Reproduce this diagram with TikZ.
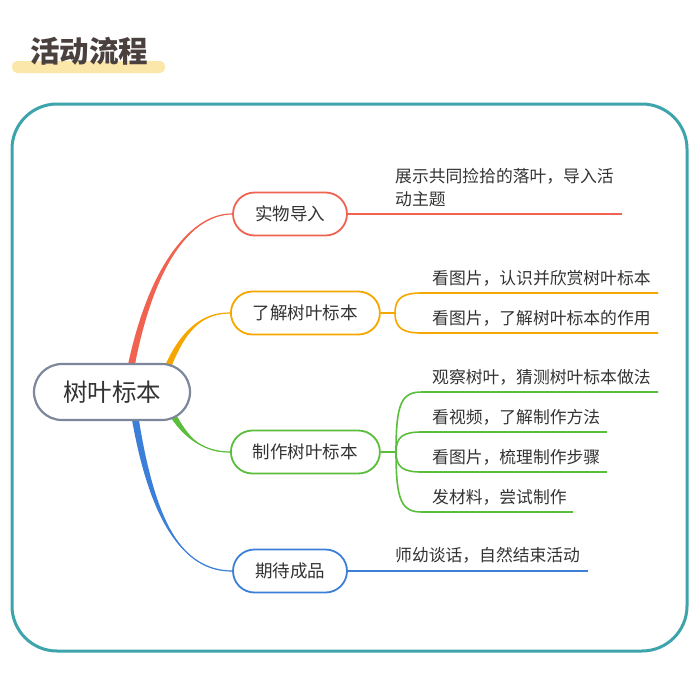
\documentclass[tikz,border=0pt]{standalone}
\usepackage{fontspec}
\setmainfont{Noto Sans CJK SC}
\usetikzlibrary{positioning, calc, backgrounds}
\definecolor{framec}{HTML}{3DA4AB}
\definecolor{barc}{HTML}{FCE7AA}
\definecolor{titlec}{HTML}{4A403D}
\definecolor{textc}{HTML}{333333}
\definecolor{rootc}{HTML}{7C879B}
\definecolor{redc}{HTML}{EF6350}
\definecolor{orangec}{HTML}{F5A700}
\definecolor{greenc}{HTML}{5BBD3C}
\definecolor{bluec}{HTML}{3C7FD8}
\tikzset{
  rootnode/.style={rectangle, rounded corners=28pt, minimum height=56pt, inner xsep=29pt, draw=rootc, line width=2.2pt, fill=white, text=textc, font=\fontsize{24.5}{27}\selectfont},
  topic/.style={rectangle, rounded corners=21.5pt, minimum height=43pt, inner xsep=22pt, line width=1.8pt, fill=white, text=textc, font=\fontsize{17.5}{20}\selectfont},
  leaf/.style={anchor=base west, inner sep=0pt, text=textc, font=\fontsize{16.8}{23}\selectfont},
  twig/.style={line width=1.6pt},
}
% tapered branch: colour, root, control 1, control 2, end
\newcommand{\mainbranch}[5]{%
  \fill[#1] ($(#2)+(-3.5,0)$) .. controls ($(#3)+(-2.5,0)$) and (#4) .. (#5)
    .. controls ($(#4)+(0,1.5)$) and ($(#3)+(2.5,0)$) .. ($(#2)+(3.5,0)$) -- cycle;
  \draw[#1, line width=1.2pt] (#2) .. controls (#3) and (#4) .. (#5);}

\begin{document}
\begin{tikzpicture}[x=1pt, y=-1pt]
  \useasboundingbox (0,0) rectangle (700,688);

  % ---- Title ----
  \fill[barc, rounded corners=5pt] (12,61) rectangle (165,73);
  \node (title) [text=titlec, font=\fontsize{29.5}{31}\bfseries\selectfont, anchor=west, inner sep=0pt] at (30,51) {活动流程};

  % ---- Frame ----
  \draw[framec, line width=3pt, rounded corners=45pt] (12,104) rectangle (687,651);

  % ---- Centre ----
  \node (root) [rootnode] at (112,392) {树叶标本};

  % ---- Topics ----
  \node (t1) [topic, draw=redc] at (290,214) {实物导入};
  \node (t2) [topic, draw=orangec, anchor=west] at (230,313) {了解树叶标本};
  \node (t3) [topic, draw=greenc, anchor=west] at (230,452) {制作树叶标本};
  \node (t4) [topic, draw=bluec] at (290,571) {期待成品};

  % ---- Main branches ----
  \begin{scope}[on background layer]
    \coordinate (r1) at ($(root.north)+(19,4)$);
    \coordinate (r2) at ($(root.north)+(55,6)$);
    \coordinate (r3) at ($(root.south)+(62,-4)$);
    \coordinate (r4) at ($(root.south)+(23,-4)$);
    \mainbranch{redc}{r1}{152,262}{192,214}{t1.west}
    \mainbranch{orangec}{r2}{185,325}{205,313}{t2.west}
    \mainbranch{greenc}{r3}{188,440}{205,452}{t3.west}
    \mainbranch{bluec}{r4}{152,520}{182,571}{t4.west}
  \end{scope}

  % ---- Branch 1 ----
  \coordinate (e1) at (622,214);
  \draw[twig, redc] (t1.east) -- (e1);
  \node (l11) [leaf, align=left] at (395,205) {展示共同捡拾的落叶，导入活\\动主题};

  % ---- Branch 2 ----
  \coordinate (f2) at (395,313);
  \coordinate (c21) at (422,293);
  \coordinate (c22) at (422,333);
  \draw[twig, orangec] (t2.east) -- (f2);
  \draw[twig, orangec] (f2) .. controls +(0,-16) and +(-18,0) .. (c21) -- (658,293);
  \draw[twig, orangec] (f2) .. controls +(0,16) and +(-18,0) .. (c22) -- (658,333);
  \node (l21) [leaf] at ($(c21)+(10,-9)$) {看图片，认识并欣赏树叶标本};
  \node (l22) [leaf] at ($(c22)+(10,-9)$) {看图片，了解树叶标本的作用};

  % ---- Branch 3 ----
  \coordinate (f3) at (396,452);
  \coordinate (c31) at (422,392);
  \coordinate (c32) at (422,432);
  \coordinate (c33) at (422,472);
  \coordinate (c34) at (422,512);
  \draw[twig, greenc] (t3.east) -- (f3);
  \draw[twig, greenc] (f3) .. controls +(0,-50) and +(-20,0) .. (c31) -- (658,392);
  \draw[twig, greenc] (f3) .. controls +(0,-16) and +(-18,0) .. (c32) -- (607,432);
  \draw[twig, greenc] (f3) .. controls +(0,16) and +(-18,0) .. (c33) -- (607,472);
  \draw[twig, greenc] (f3) .. controls +(0,50) and +(-20,0) .. (c34) -- (573,512);
  \node (l31) [leaf] at ($(c31)+(10,-9)$) {观察树叶，猜测树叶标本做法};
  \node (l32) [leaf] at ($(c32)+(10,-9)$) {看视频，了解制作方法};
  \node (l33) [leaf] at ($(c33)+(10,-9)$) {看图片，梳理制作步骤};
  \node (l34) [leaf] at ($(c34)+(10,-9)$) {发材料，尝试制作};

  % ---- Branch 4 ----
  \coordinate (e4) at (588,571);
  \draw[twig, bluec] (t4.east) -- (e4);
  \node (l41) [leaf] at (395,561) {师幼谈话，自然结束活动};

\end{tikzpicture}
\end{document}
